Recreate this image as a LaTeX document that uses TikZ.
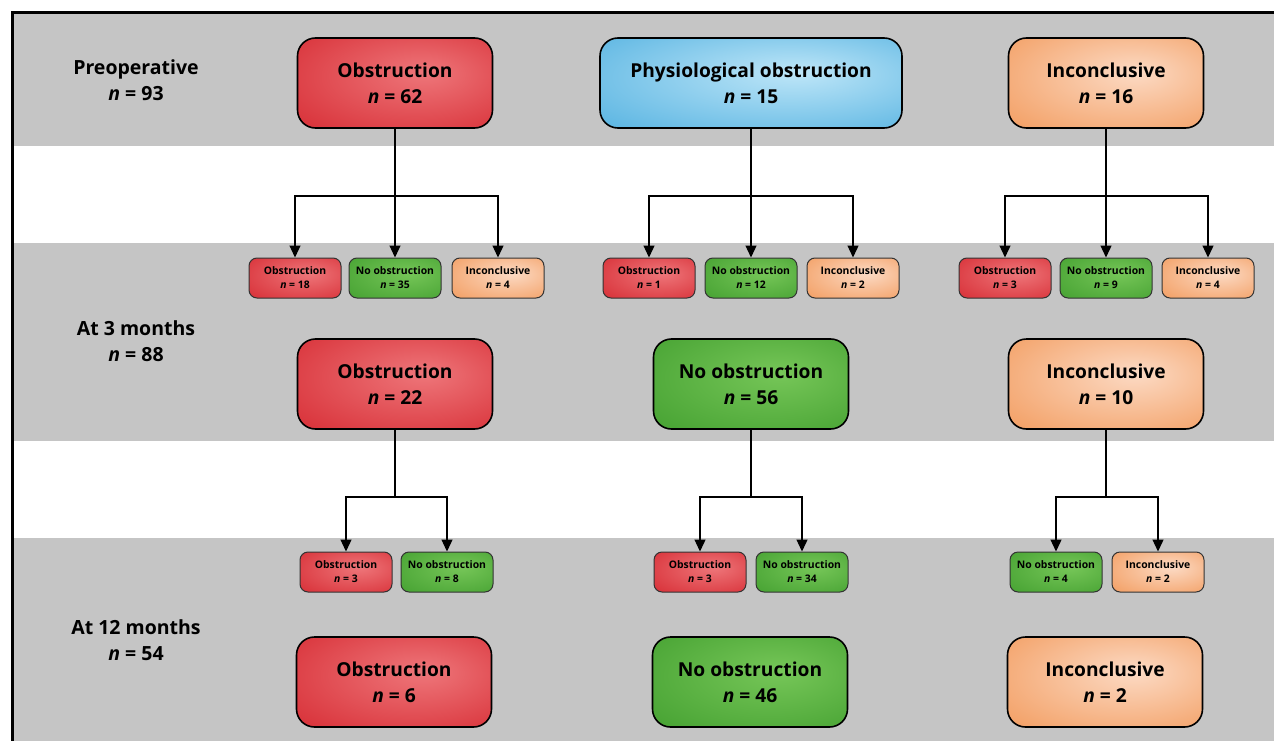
\documentclass[tikz,border=0pt]{standalone}
\usepackage{fontspec}
\setmainfont{Open Sans}
\usetikzlibrary{arrows.meta}

\definecolor{bandgray}{RGB}{197,197,197}
\definecolor{redL}{RGB}{238,118,122}
\definecolor{redD}{RGB}{212,36,44}
\definecolor{greenL}{RGB}{118,198,88}
\definecolor{greenD}{RGB}{62,156,44}
\definecolor{orangeL}{RGB}{252,218,196}
\definecolor{orangeD}{RGB}{241,148,82}
\definecolor{blueL}{RGB}{190,230,248}
\definecolor{blueD}{RGB}{72,172,222}

\pgfdeclareradialshading{redglow}{\pgfpoint{8bp}{6bp}}{color(0bp)=(redL); color(46bp)=(redD); color(62bp)=(redD!85!black)}
\pgfdeclareradialshading{greenglow}{\pgfpoint{8bp}{6bp}}{color(0bp)=(greenL); color(46bp)=(greenD); color(62bp)=(greenD!85!black)}
\pgfdeclareradialshading{orangeglow}{\pgfpoint{8bp}{6bp}}{color(0bp)=(orangeL); color(46bp)=(orangeD); color(62bp)=(orangeD!85!black)}
\pgfdeclareradialshading{blueglow}{\pgfpoint{8bp}{6bp}}{color(0bp)=(blueL); color(46bp)=(blueD); color(62bp)=(blueD!85!black)}

\newcommand{\ncount}[1]{\textit{n} = #1}

\tikzset{
  band/.style={fill=bandgray, draw=none},
  bigbox/.style={draw=black, line width=1.6pt, rounded corners=18pt, align=center,
    font=\bfseries\fontsize{19.2}{26}\selectfont, minimum width=195pt, minimum height=90pt, inner sep=0pt},
  tinybox/.style={draw=black!80, line width=1pt, rounded corners=8pt, align=center,
    font=\bfseries\fontsize{10.4}{14}\selectfont, minimum width=92pt, minimum height=40pt, inner sep=0pt},
  rowlabel/.style={align=center, font=\bfseries\fontsize{19.5}{26}\selectfont},
  obs/.style={shading=redglow},
  noobs/.style={shading=greenglow},
  incon/.style={shading=orangeglow},
  physio/.style={shading=blueglow},
  link/.style={line width=1.3pt},
  arr/.style={link, -{Triangle[width=11pt,length=12pt]}},
}

\begin{document}
\begin{tikzpicture}[x=1pt,y=-1pt]
\useasboundingbox (0,0) rectangle (1274,741);
\clip (0,0) rectangle (1274,741);
% bands and frame
\fill[white] (0,0) rectangle (1274,741);
\fill[band] (12,14) rectangle (1280,146);
\fill[band] (12,243) rectangle (1280,441);
\fill[band] (12,538) rectangle (1280,760);
\draw[line width=3pt] (12,13) rectangle (1300,780);

% row labels
\node[rowlabel] (lpre) at (136,80) {Preoperative\\ \ncount{93}};
\node[rowlabel] (l3m) at (136,341) {At 3 months\\ \ncount{88}};
\node[rowlabel] (l12m) at (136,640) {At 12 months\\ \ncount{54}};

% preoperative
\node[bigbox, obs] (pobs) at (395,83) {Obstruction\\ \ncount{62}};
\node[bigbox, physio, minimum width=302pt] (pphy) at (751,83) {Physiological obstruction\\ \ncount{15}};
\node[bigbox, incon] (pinc) at (1106,83) {Inconclusive\\ \ncount{16}};

% 3 months, split by preoperative result
\node[tinybox, obs] (aobs1) at (295,278) {Obstruction\\ \ncount{18}};
\node[tinybox, noobs] (anob1) at (395,278) {No obstruction\\ \ncount{35}};
\node[tinybox, incon] (ainc1) at (498,278) {Inconclusive\\ \ncount{4}};
\node[tinybox, obs] (aobs2) at (649,278) {Obstruction\\ \ncount{1}};
\node[tinybox, noobs] (anob2) at (751,278) {No obstruction\\ \ncount{12}};
\node[tinybox, incon] (ainc2) at (853,278) {Inconclusive\\ \ncount{2}};
\node[tinybox, obs] (aobs3) at (1005,278) {Obstruction\\ \ncount{3}};
\node[tinybox, noobs] (anob3) at (1106,278) {No obstruction\\ \ncount{9}};
\node[tinybox, incon] (ainc3) at (1208,278) {Inconclusive\\ \ncount{4}};

\coordinate (j1) at (395,196);
\coordinate (j2) at (751,196);
\coordinate (j3) at (1106,196);
\draw[link] (pobs) -- (j1);
\draw[link] (pphy) -- (j2);
\draw[link] (pinc) -- (j3);
\draw[arr] (j1) -| (aobs1);
\draw[arr] (j1) -- (anob1);
\draw[arr] (j1) -| (ainc1);
\draw[arr] (j2) -| (aobs2);
\draw[arr] (j2) -- (anob2);
\draw[arr] (j2) -| (ainc2);
\draw[arr] (j3) -| (aobs3);
\draw[arr] (j3) -- (anob3);
\draw[arr] (j3) -| (ainc3);

% at 3 months
\node[bigbox, obs] (tobs) at (395,384) {Obstruction\\ \ncount{22}};
\node[bigbox, noobs] (tnob) at (751,384) {No obstruction\\ \ncount{56}};
\node[bigbox, incon] (tinc) at (1106,384) {Inconclusive\\ \ncount{10}};

% 12 months, split by 3-month result
\node[tinybox, obs] (bobs1) at (346,572) {Obstruction\\ \ncount{3}};
\node[tinybox, noobs] (bnob1) at (447,572) {No obstruction\\ \ncount{8}};
\node[tinybox, obs] (bobs2) at (700,572) {Obstruction\\ \ncount{3}};
\node[tinybox, noobs] (bnob2) at (802,572) {No obstruction\\ \ncount{34}};
\node[tinybox, noobs] (bnob3) at (1056,572) {No obstruction\\ \ncount{4}};
\node[tinybox, incon] (binc3) at (1158,572) {Inconclusive\\ \ncount{2}};

\coordinate (k1) at (395,497);
\coordinate (k2) at (751,497);
\coordinate (k3) at (1106,497);
\draw[link] (tobs) -- (k1);
\draw[link] (tnob) -- (k2);
\draw[link] (tinc) -- (k3);
\draw[arr] (k1) -| (bobs1);
\draw[arr] (k1) -| (bnob1);
\draw[arr] (k2) -| (bobs2);
\draw[arr] (k2) -| (bnob2);
\draw[arr] (k3) -| (bnob3);
\draw[arr] (k3) -| (binc3);

% at 12 months
\node[bigbox, obs] (yobs) at (394,682) {Obstruction\\ \ncount{6}};
\node[bigbox, noobs] (ynob) at (750,682) {No obstruction\\ \ncount{46}};
\node[bigbox, incon] (yinc) at (1105,682) {Inconclusive\\ \ncount{2}};
\end{tikzpicture}
\end{document}
